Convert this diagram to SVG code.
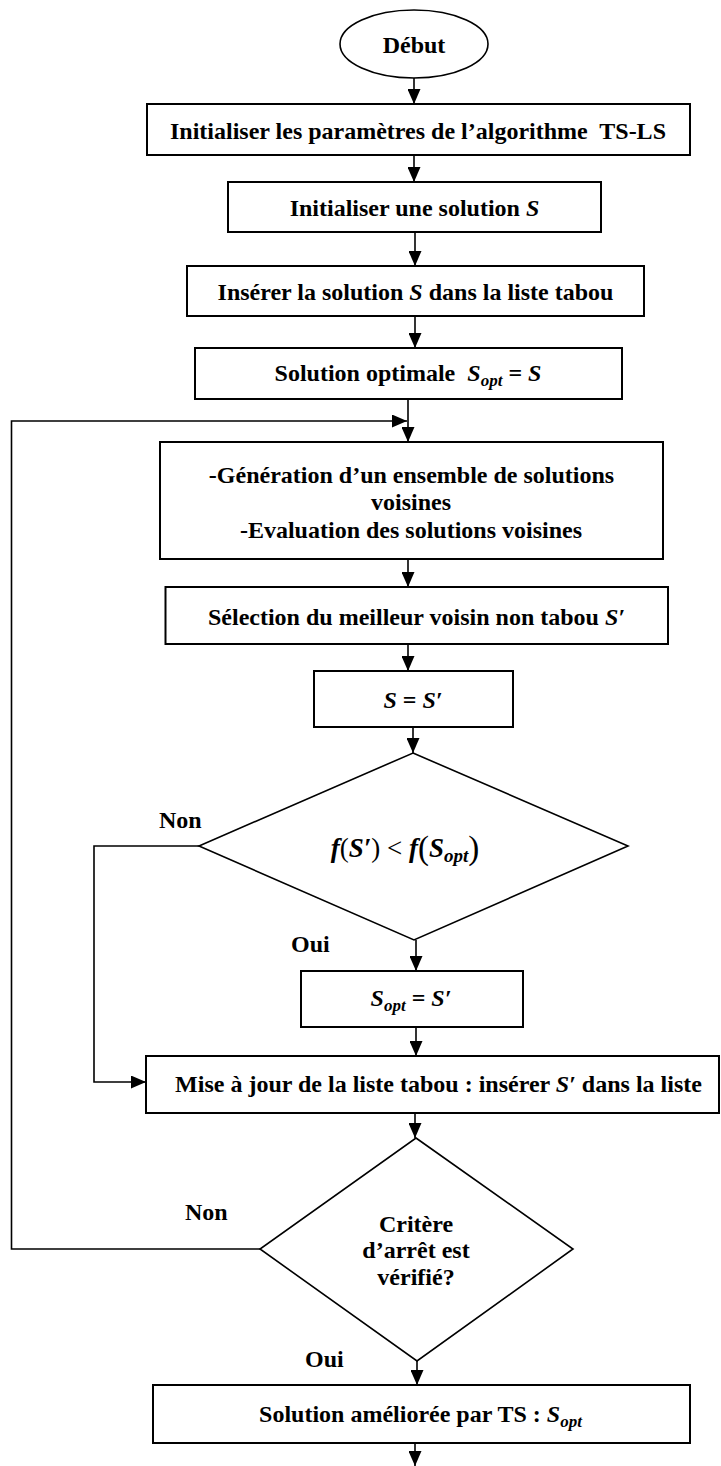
<svg xmlns="http://www.w3.org/2000/svg" width="721" height="1466" viewBox="0 0 721 1466">
  <defs>
    <marker id="arrow" viewBox="0 0 15 13" refX="15" refY="6.5" markerWidth="15" markerHeight="13" markerUnits="userSpaceOnUse" orient="auto">
      <path d="M0,0 L15,6.5 L0,13 z" fill="#000"/>
    </marker>
  </defs>
  <style>
    .box{fill:#fff;stroke:#000;stroke-width:2}
    .shape{fill:#fff;stroke:#000;stroke-width:1.6}
    .conn{fill:none;stroke:#000;stroke-width:1.6;marker-end:url(#arrow)}
    text{font-family:"Liberation Serif","Times New Roman",serif;font-weight:bold;font-size:24px;fill:#000}
    .c{text-anchor:middle}
    .m{font-style:italic}
    .sub{font-size:17px;font-style:italic}
    .up{font-weight:normal}
    .formula{font-size:27px}
    .formula .sub{font-size:19px}
    .big{font-size:33px;font-weight:normal}
  </style>

  <rect width="721" height="1466" fill="#fff"/>

  <!-- connectors -->
  <g id="connectors">
    <path class="conn" d="M414,78 V104"/>
    <path class="conn" d="M414,155 V182"/>
    <path class="conn" d="M415,232 V266"/>
    <path class="conn" d="M415,316 V348"/>
    <path class="conn" d="M408,399 V442"/>
    <path class="conn" d="M260,1249 H11.5 V421 H407"/>
    <path class="conn" d="M408,559 V587"/>
    <path class="conn" d="M408,644 V671"/>
    <path class="conn" d="M413,727 V753"/>
    <path class="conn" d="M416,940 V971"/>
    <path class="conn" d="M199,846 H94 V1082 H146"/>
    <path class="conn" d="M416,1027 V1056"/>
    <path class="conn" d="M415,1113 V1138"/>
    <path class="conn" d="M417,1361 V1385"/>
    <path class="conn" d="M415,1443 V1466"/>
  </g>

  <g id="start">
    <ellipse class="shape" cx="414" cy="44" rx="74" ry="34"/>
    <text class="c" x="414" y="53">Début</text>
  </g>

  <g id="init-params">
    <rect class="box" x="147" y="104" width="543" height="51"/>
    <text class="c" x="418" y="139" xml:space="preserve">Initialiser les paramètres de l’algorithme  TS-LS</text>
  </g>

  <g id="init-solution">
    <rect class="box" x="228" y="182" width="373" height="50"/>
    <text class="c" x="414.5" y="216">Initialiser une solution <tspan class="m">S</tspan></text>
  </g>

  <g id="insert-tabu">
    <rect class="box" x="187" y="266" width="457" height="50"/>
    <text class="c" x="415.5" y="300">Insérer la solution <tspan class="m">S</tspan> dans la liste tabou</text>
  </g>

  <g id="optimal-init">
    <rect class="box" x="195" y="348" width="427" height="51"/>
    <text class="c" x="408" y="381" xml:space="preserve">Solution optimale  <tspan class="m">S</tspan><tspan class="sub" dy="5">opt</tspan><tspan dy="-5"> = </tspan><tspan class="m">S</tspan></text>
  </g>

  <g id="neighbours">
    <rect class="box" x="160" y="442" width="503" height="117"/>
    <text class="c" x="411.5" y="483">-Génération d’un ensemble de solutions</text>
    <text class="c" x="411" y="510">voisines</text>
    <text class="c" x="411" y="538">-Evaluation des solutions voisines</text>
  </g>

  <g id="best-neighbour">
    <rect class="box" x="165.5" y="587" width="502.5" height="57"/>
    <text class="c" x="416.5" y="625">Sélection du meilleur voisin non tabou <tspan class="m">S′</tspan></text>
  </g>

  <g id="assign-s">
    <rect class="box" x="314" y="671" width="199" height="56"/>
    <text class="c" x="413" y="708"><tspan class="m">S</tspan> = <tspan class="m">S′</tspan></text>
  </g>

  <g id="test-improve">
    <polygon class="shape" points="413,753 628,846 414,940 199,846"/>
    <text class="c formula" x="405" y="857"><tspan class="m">f</tspan><tspan class="up">(</tspan><tspan class="m">S′</tspan><tspan class="up">) &lt; </tspan><tspan class="m">f</tspan><tspan class="big" dy="2">(</tspan><tspan class="m" dy="-2">S</tspan><tspan class="sub" dy="5">opt</tspan><tspan class="big" dy="-3">)</tspan></text>
    <text x="159" y="828">Non</text>
    <text x="291" y="952">Oui</text>
  </g>

  <g id="update-opt">
    <rect class="box" x="301" y="971" width="222" height="56"/>
    <text class="c" x="411" y="1006"><tspan class="m">S</tspan><tspan class="sub" dy="5">opt</tspan><tspan dy="-5"> = </tspan><tspan class="m">S′</tspan></text>
  </g>

  <g id="update-tabu">
    <rect class="box" x="146" y="1056" width="573" height="57"/>
    <text class="c" x="438.5" y="1092">Mise à jour de la liste tabou : insérer <tspan class="m">S′</tspan> dans la liste</text>
  </g>

  <g id="test-stop">
    <polygon class="shape" points="416,1138 573,1249 417,1361 260,1249"/>
    <text class="c" x="416" y="1232">Critère</text>
    <text class="c" x="416" y="1258">d’arrêt est</text>
    <text class="c" x="416" y="1285">vérifié?</text>
    <text x="185" y="1220">Non</text>
    <text x="305" y="1367">Oui</text>
  </g>

  <g id="result">
    <rect class="box" x="153" y="1385" width="537" height="58"/>
    <text class="c" x="420.5" y="1422">Solution améliorée par TS : <tspan class="m">S</tspan><tspan class="sub" dy="5">opt</tspan></text>
  </g>
</svg>
